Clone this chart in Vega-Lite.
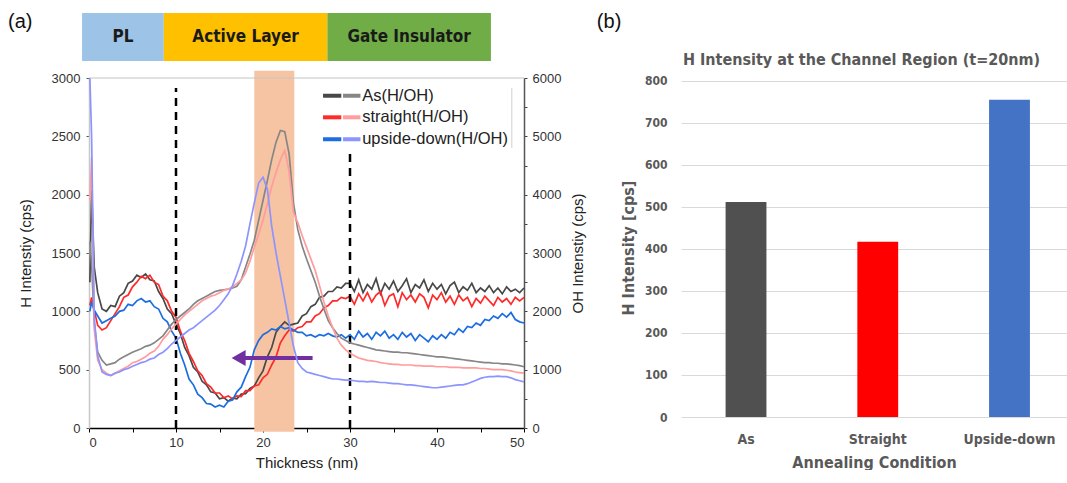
{
  "$schema": "https://vega.github.io/schema/vega-lite/v6.json",
  "padding": {"left": 8, "top": 12, "right": 0, "bottom": 0},
  "background": "white",
  "config": {"view": {"stroke": null}, "font": "Liberation Sans"},
  "spacing": 10,
  "resolve": {"scale": {"color": "independent", "fill": "independent"}},
  "datasets": {
    "curves": [
      {"x":0.1,"aH":1250,"sH":1050,"uH":1000,"aO":3200,"sO":3900,"uO":6000},
      {"x":0.3,"aH":2040,"sH":1120,"uH":1080,"aO":2800,"sO":4640,"uO":5000},
      {"x":0.6,"aH":1380,"sH":1010,"uH":1010,"aO":1800,"sO":1700,"uO":1900},
      {"x":1.0,"aH":1160,"sH":880,"uH":960,"aO":1300,"sO":1160,"uO":1240},
      {"x":1.5,"aH":1020,"sH":840,"uH":900,"aO":1160,"sO":1000,"uO":960},
      {"x":2.0,"aH":1000,"sH":860,"uH":920,"aO":1080,"sO":940,"uO":920},
      {"x":2.5,"aH":1050,"sH":920,"uH":940,"aO":1100,"sO":900,"uO":900},
      {"x":3.0,"aH":1040,"sH":980,"uH":960,"aO":1120,"sO":940,"uO":940},
      {"x":3.5,"aH":1130,"sH":1040,"uH":1000,"aO":1180,"sO":980,"uO":960},
      {"x":4.0,"aH":1160,"sH":1120,"uH":1010,"aO":1220,"sO":1020,"uO":1000},
      {"x":4.5,"aH":1240,"sH":1140,"uH":1060,"aO":1260,"sO":1060,"uO":1020},
      {"x":5.0,"aH":1260,"sH":1210,"uH":1050,"aO":1300,"sO":1120,"uO":1060},
      {"x":5.5,"aH":1310,"sH":1250,"uH":1090,"aO":1330,"sO":1140,"uO":1090},
      {"x":6.0,"aH":1290,"sH":1300,"uH":1110,"aO":1360,"sO":1180,"uO":1120},
      {"x":6.5,"aH":1320,"sH":1280,"uH":1080,"aO":1400,"sO":1220,"uO":1140},
      {"x":7.0,"aH":1270,"sH":1310,"uH":1090,"aO":1420,"sO":1280,"uO":1180},
      {"x":7.5,"aH":1260,"sH":1250,"uH":1040,"aO":1460,"sO":1320,"uO":1200},
      {"x":8.0,"aH":1170,"sH":1230,"uH":1020,"aO":1520,"sO":1400,"uO":1260},
      {"x":8.5,"aH":1110,"sH":1130,"uH":940,"aO":1580,"sO":1520,"uO":1300},
      {"x":9.0,"aH":1020,"sH":1090,"uH":910,"aO":1680,"sO":1600,"uO":1360},
      {"x":9.5,"aH":980,"sH":1000,"uH":830,"aO":1780,"sO":1700,"uO":1440},
      {"x":10.0,"aH":890,"sH":950,"uH":770,"aO":1860,"sO":1780,"uO":1500},
      {"x":10.5,"aH":810,"sH":830,"uH":640,"aO":1920,"sO":1860,"uO":1560},
      {"x":11.0,"aH":690,"sH":750,"uH":540,"aO":1980,"sO":1940,"uO":1620},
      {"x":11.5,"aH":620,"sH":640,"uH":420,"aO":2040,"sO":2000,"uO":1680},
      {"x":12.0,"aH":520,"sH":570,"uH":370,"aO":2120,"sO":2060,"uO":1720},
      {"x":12.5,"aH":480,"sH":490,"uH":290,"aO":2180,"sO":2120,"uO":1780},
      {"x":13.0,"aH":400,"sH":450,"uH":260,"aO":2220,"sO":2180,"uO":1840},
      {"x":13.5,"aH":370,"sH":380,"uH":210,"aO":2260,"sO":2220,"uO":1900},
      {"x":14.0,"aH":310,"sH":350,"uH":205,"aO":2300,"sO":2260,"uO":1960},
      {"x":14.5,"aH":300,"sH":300,"uH":180,"aO":2340,"sO":2280,"uO":2020},
      {"x":15.0,"aH":250,"sH":300,"uH":195,"aO":2360,"sO":2320,"uO":2100},
      {"x":15.5,"aH":260,"sH":260,"uH":180,"aO":2370,"sO":2360,"uO":2200},
      {"x":16.0,"aH":230,"sH":275,"uH":230,"aO":2380,"sO":2380,"uO":2300},
      {"x":16.5,"aH":255,"sH":250,"uH":240,"aO":2400,"sO":2420,"uO":2440},
      {"x":17.0,"aH":250,"sH":275,"uH":310,"aO":2430,"sO":2480,"uO":2640},
      {"x":17.5,"aH":290,"sH":270,"uH":350,"aO":2540,"sO":2540,"uO":2860},
      {"x":18.0,"aH":295,"sH":320,"uH":440,"aO":2760,"sO":2660,"uO":3120},
      {"x":18.5,"aH":340,"sH":320,"uH":520,"aO":2980,"sO":2860,"uO":3500},
      {"x":19.0,"aH":360,"sH":360,"uH":670,"aO":3220,"sO":3100,"uO":3860},
      {"x":19.5,"aH":430,"sH":370,"uH":750,"aO":3560,"sO":3320,"uO":4200},
      {"x":20.0,"aH":490,"sH":430,"uH":800,"aO":3900,"sO":3560,"uO":4300},
      {"x":20.5,"aH":610,"sH":460,"uH":820,"aO":4240,"sO":3840,"uO":4100},
      {"x":21.0,"aH":690,"sH":540,"uH":850,"aO":4600,"sO":4140,"uO":3460},
      {"x":21.5,"aH":820,"sH":610,"uH":840,"aO":4900,"sO":4380,"uO":3000},
      {"x":22.0,"aH":870,"sH":730,"uH":870,"aO":5100,"sO":4600,"uO":2600},
      {"x":22.5,"aH":910,"sH":790,"uH":850,"aO":5080,"sO":4760,"uO":2200},
      {"x":23.0,"aH":880,"sH":840,"uH":860,"aO":4700,"sO":4400,"uO":1800},
      {"x":23.5,"aH":890,"sH":830,"uH":840,"aO":3860,"sO":3700,"uO":1400},
      {"x":24.0,"aH":900,"sH":860,"uH":820,"aO":3400,"sO":3520,"uO":1120},
      {"x":24.5,"aH":960,"sH":870,"uH":820,"aO":3120,"sO":3300,"uO":1020},
      {"x":25.0,"aH":980,"sH":910,"uH":790,"aO":2900,"sO":3100,"uO":960},
      {"x":25.5,"aH":1040,"sH":910,"uH":800,"aO":2700,"sO":2900,"uO":940},
      {"x":26.0,"aH":1060,"sH":960,"uH":780,"aO":2500,"sO":2700,"uO":920},
      {"x":26.5,"aH":1120,"sH":980,"uH":800,"aO":2260,"sO":2440,"uO":900},
      {"x":27.0,"aH":1130,"sH":1030,"uH":790,"aO":2040,"sO":2160,"uO":880},
      {"x":27.5,"aH":1170,"sH":1050,"uH":810,"aO":1840,"sO":1920,"uO":860},
      {"x":28.0,"aH":1170,"sH":1090,"uH":790,"aO":1720,"sO":1720,"uO":840},
      {"x":28.5,"aH":1210,"sH":1090,"uH":780,"aO":1620,"sO":1540,"uO":840},
      {"x":29.0,"aH":1200,"sH":1120,"uH":800,"aO":1540,"sO":1420,"uO":830},
      {"x":29.5,"aH":1240,"sH":1110,"uH":770,"aO":1500,"sO":1340,"uO":820},
      {"x":30.0,"aH":1240,"sH":1130,"uH":800,"aO":1460,"sO":1280,"uO":820},
      {"x":30.5,"aH":1170,"sH":1060,"uH":760,"aO":1440,"sO":1240,"uO":810},
      {"x":31.0,"aH":1270,"sH":1150,"uH":830,"aO":1420,"sO":1200,"uO":800},
      {"x":31.5,"aH":1160,"sH":1090,"uH":780,"aO":1400,"sO":1180,"uO":800},
      {"x":32.0,"aH":1230,"sH":1160,"uH":810,"aO":1380,"sO":1160,"uO":790},
      {"x":32.5,"aH":1190,"sH":1080,"uH":760,"aO":1360,"sO":1150,"uO":800},
      {"x":33.0,"aH":1280,"sH":1140,"uH":820,"aO":1340,"sO":1140,"uO":790},
      {"x":33.5,"aH":1150,"sH":1170,"uH":790,"aO":1330,"sO":1120,"uO":780},
      {"x":34.0,"aH":1240,"sH":1050,"uH":830,"aO":1320,"sO":1110,"uO":780},
      {"x":34.5,"aH":1190,"sH":1130,"uH":770,"aO":1310,"sO":1100,"uO":770},
      {"x":35.0,"aH":1260,"sH":1150,"uH":800,"aO":1300,"sO":1090,"uO":760},
      {"x":35.5,"aH":1170,"sH":1040,"uH":760,"aO":1300,"sO":1090,"uO":760},
      {"x":36.0,"aH":1220,"sH":1160,"uH":820,"aO":1290,"sO":1080,"uO":750},
      {"x":36.5,"aH":1280,"sH":1100,"uH":780,"aO":1290,"sO":1080,"uO":740},
      {"x":37.0,"aH":1160,"sH":1140,"uH":810,"aO":1280,"sO":1080,"uO":740},
      {"x":37.5,"aH":1230,"sH":1080,"uH":750,"aO":1270,"sO":1070,"uO":730},
      {"x":38.0,"aH":1200,"sH":1150,"uH":800,"aO":1260,"sO":1070,"uO":720},
      {"x":38.5,"aH":1270,"sH":1120,"uH":770,"aO":1250,"sO":1060,"uO":710},
      {"x":39.0,"aH":1170,"sH":1030,"uH":740,"aO":1240,"sO":1060,"uO":700},
      {"x":39.5,"aH":1240,"sH":1140,"uH":790,"aO":1230,"sO":1060,"uO":690},
      {"x":40.0,"aH":1190,"sH":1100,"uH":760,"aO":1220,"sO":1050,"uO":690},
      {"x":40.5,"aH":1230,"sH":1160,"uH":800,"aO":1220,"sO":1050,"uO":700},
      {"x":41.0,"aH":1150,"sH":1080,"uH":770,"aO":1210,"sO":1050,"uO":710},
      {"x":41.5,"aH":1220,"sH":1130,"uH":820,"aO":1200,"sO":1040,"uO":720},
      {"x":42.0,"aH":1250,"sH":1060,"uH":800,"aO":1190,"sO":1040,"uO":730},
      {"x":42.5,"aH":1160,"sH":1140,"uH":850,"aO":1180,"sO":1040,"uO":740},
      {"x":43.0,"aH":1210,"sH":1090,"uH":820,"aO":1170,"sO":1030,"uO":740},
      {"x":43.5,"aH":1180,"sH":1120,"uH":870,"aO":1160,"sO":1030,"uO":760},
      {"x":44.0,"aH":1240,"sH":1040,"uH":860,"aO":1150,"sO":1030,"uO":790},
      {"x":44.5,"aH":1160,"sH":1110,"uH":900,"aO":1140,"sO":1030,"uO":820},
      {"x":45.0,"aH":1200,"sH":1070,"uH":880,"aO":1130,"sO":1020,"uO":850},
      {"x":45.5,"aH":1170,"sH":1130,"uH":930,"aO":1120,"sO":1020,"uO":870},
      {"x":46.0,"aH":1220,"sH":1090,"uH":920,"aO":1120,"sO":1010,"uO":880},
      {"x":46.5,"aH":1160,"sH":1050,"uH":960,"aO":1110,"sO":1000,"uO":880},
      {"x":47.0,"aH":1200,"sH":1120,"uH":940,"aO":1110,"sO":1000,"uO":890},
      {"x":47.5,"aH":1150,"sH":1080,"uH":980,"aO":1100,"sO":1000,"uO":880},
      {"x":48.0,"aH":1210,"sH":1110,"uH":950,"aO":1100,"sO":990,"uO":880},
      {"x":48.5,"aH":1170,"sH":1060,"uH":990,"aO":1090,"sO":980,"uO":860},
      {"x":49.0,"aH":1190,"sH":1120,"uH":930,"aO":1080,"sO":960,"uO":830},
      {"x":49.5,"aH":1160,"sH":1090,"uH":910,"aO":1070,"sO":950,"uO":810},
      {"x":50.0,"aH":1200,"sH":1120,"uH":900,"aO":1050,"sO":940,"uO":790}
    ]
  },
  "hconcat": [
    {
      "width": 435,
      "height": 350,
      "resolve": {"scale": {"y": "independent"}},
      "layer": [
        {
          "layer": [
            {
              "data": {"values": [{"x": 19, "x2": 23.6, "y": -32, "y2": 3063}]},
              "mark": {"type": "rect", "fill": "#f6c4a2"},
              "encoding": {
                "x": {"field": "x", "type": "quantitative"},
                "x2": {"field": "x2"},
                "y": {"field": "y", "type": "quantitative"},
                "y2": {"field": "y2"}
              }
            },
            {
              "data": {"values": [
                {"label": "PL", "x": -0.8, "x2": 8.6, "xm": 3.9},
                {"label": "Active Layer", "x": 8.6, "x2": 27.4, "xm": 18.0},
                {"label": "Gate Insulator", "x": 27.4, "x2": 46.2, "xm": 36.8}
              ]},
              "layer": [
                {
                  "mark": {"type": "rect"},
                  "encoding": {
                    "x": {"field": "x", "type": "quantitative"},
                    "x2": {"field": "x2"},
                    "y": {"datum": 3146, "type": "quantitative"},
                    "y2": {"datum": 3557},
                    "fill": {"field": "label", "type": "nominal", "scale": {"domain": ["PL", "Active Layer", "Gate Insulator"], "range": ["#9dc3e6", "#ffc000", "#70ad47"]}, "legend": null}
                  }
                },
                {
                  "mark": {"type": "text", "font": "DejaVu Sans Condensed", "fontWeight": "bold", "fontSize": 17, "color": "#1a1a1a", "baseline": "middle", "align": "center"},
                  "encoding": {
                    "x": {"field": "xm", "type": "quantitative"},
                    "y": {"datum": 3351, "type": "quantitative"},
                    "text": {"field": "label"}
                  }
                }
              ]
            },
            {
              "data": {"values": [{"a": 0, "b": 50, "c": 3000}]},
              "mark": {"type": "rule", "color": "#c4c4c4", "strokeWidth": 1.2},
              "encoding": {
                "x": {"field": "a", "type": "quantitative"},
                "x2": {"field": "b"},
                "y": {"field": "c", "type": "quantitative"}
              }
            },
            {
              "data": {"name": "curves"},
              "transform": [{"fold": ["aH", "sH", "uH"], "as": ["series", "value"]}],
              "mark": {"type": "line", "strokeWidth": 1.7},
              "encoding": {
                "x": {
                  "field": "x", "type": "quantitative",
                  "scale": {"domain": [0, 50], "nice": false},
                  "axis": {
                    "title": "Thickness (nm)",
                    "values": [0, 5, 10, 15, 20, 25, 30, 35, 40, 45, 50],
                    "labelExpr": "datum.value % 10 === 0 ? datum.label : ''",
                    "grid": false, "domainColor": "#000", "domainWidth": 1.5,
                    "tickColor": "#000", "tickSize": 4, "labelPadding": 4,
                    "labelFontSize": 13, "labelColor": "#333",
                    "titleFontSize": 15, "titleFontWeight": "normal", "titleColor": "#222", "titlePadding": 6
                  }
                },
                "y": {
                  "field": "value", "type": "quantitative",
                  "scale": {"domain": [0, 3000], "nice": false},
                  "axis": {
                    "title": "H Intenstiy (cps)",
                    "values": [0, 250, 500, 750, 1000, 1250, 1500, 1750, 2000, 2250, 2500, 2750, 3000],
                    "format": "d",
                    "labelExpr": "datum.value % 500 === 0 ? datum.label : ''",
                    "grid": false, "domainColor": "#c8c8c8", "domainWidth": 1.5,
                    "tickColor": "#555", "tickSize": 3, "labelPadding": 6,
                    "labelFontSize": 13, "labelColor": "#333",
                    "titleFontSize": 15, "titleFontWeight": "normal", "titleColor": "#222", "titlePadding": 18
                  }
                },
                "color": {
                  "field": "series", "type": "nominal",
                  "scale": {"domain": ["aH", "sH", "uH", "aO", "sO", "uO"], "range": ["#484848", "#ff2a2a", "#1c6ee0", "#868686", "#ff9c9c", "#8c94ff"]},
                  "legend": null
                }
              }
            },
            {
              "data": {"values": [{"x": 10, "y": 0, "y2": 2914}, {"x": 30, "y": 0, "y2": 2400}]},
              "mark": {"type": "rule", "color": "#000", "strokeWidth": 2.5, "strokeDash": [8, 6]},
              "encoding": {
                "x": {"field": "x", "type": "quantitative"},
                "y": {"field": "y", "type": "quantitative"},
                "y2": {"field": "y2"}
              }
            },
            {
              "data": {"values": [{"x": 25.7, "x2": 17.8, "y": 600}]},
              "mark": {"type": "rule", "color": "#7030a0", "strokeWidth": 4},
              "encoding": {
                "x": {"field": "x", "type": "quantitative"},
                "x2": {"field": "x2"},
                "y": {"field": "y", "type": "quantitative"}
              }
            },
            {
              "data": {"values": [{"x": 17.2, "y": 600}]},
              "mark": {"type": "point", "shape": "triangle-left", "filled": true, "size": 260, "color": "#7030a0", "opacity": 1},
              "encoding": {
                "x": {"field": "x", "type": "quantitative"},
                "y": {"field": "y", "type": "quantitative"}
              }
            },
            {
              "data": {"values": [
                {"series": "aH", "x": 26.9, "x2": 29.0, "y": 2848},
                {"series": "aO", "x": 29.2, "x2": 31.2, "y": 2848},
                {"series": "sH", "x": 26.9, "x2": 29.0, "y": 2663},
                {"series": "sO", "x": 29.2, "x2": 31.2, "y": 2663},
                {"series": "uH", "x": 26.9, "x2": 29.0, "y": 2475},
                {"series": "uO", "x": 29.2, "x2": 31.2, "y": 2475}
              ]},
              "mark": {"type": "rule", "strokeWidth": 4},
              "encoding": {
                "x": {"field": "x", "type": "quantitative"},
                "x2": {"field": "x2"},
                "y": {"field": "y", "type": "quantitative"},
                "color": {"field": "series", "type": "nominal", "legend": null}
              }
            },
            {
              "data": {"values": [
                {"t": "As(H/OH)", "x": 31.4, "y": 2848},
                {"t": "straight(H/OH)", "x": 31.4, "y": 2663},
                {"t": "upside-down(H/OH)", "x": 31.4, "y": 2475}
              ]},
              "mark": {"type": "text", "align": "left", "baseline": "middle", "fontSize": 16.5, "color": "#222"},
              "encoding": {
                "x": {"field": "x", "type": "quantitative"},
                "y": {"field": "y", "type": "quantitative"},
                "text": {"field": "t"}
              }
            },
            {
              "data": {"values": [{"x": 48.6, "y": 2400, "y2": 2914}]},
              "mark": {"type": "rule", "color": "#cfcfcf", "strokeWidth": 1},
              "encoding": {
                "x": {"field": "x", "type": "quantitative"},
                "y": {"field": "y", "type": "quantitative"},
                "y2": {"field": "y2"}
              }
            },
            {
              "data": {"values": [{"t": "(a)", "x": -9.3, "y": 3480}]},
              "mark": {"type": "text", "align": "left", "baseline": "middle", "fontSize": 20, "color": "#111"},
              "encoding": {
                "x": {"field": "x", "type": "quantitative"},
                "y": {"field": "y", "type": "quantitative"},
                "text": {"field": "t"}
              }
            }
          ]
        },
        {
          "data": {"name": "curves"},
          "transform": [{"fold": ["aO", "sO", "uO"], "as": ["series", "value"]}],
          "mark": {"type": "line", "strokeWidth": 1.7},
          "encoding": {
            "x": {"field": "x", "type": "quantitative"},
            "y": {
              "field": "value", "type": "quantitative",
              "scale": {"domain": [0, 6000], "nice": false},
              "axis": {
                "orient": "right",
                "title": "OH Intenstiy (cps)",
                "titleAngle": 270,
                "titleBaseline": "top",
                "values": [0, 500, 1000, 1500, 2000, 2500, 3000, 3500, 4000, 4500, 5000, 5500, 6000],
                "format": "d",
                "labelExpr": "datum.value % 1000 === 0 ? datum.label : ''",
                "grid": false, "domainColor": "#555", "domainWidth": 1.5,
                "tickColor": "#444", "tickSize": 3, "labelPadding": 5,
                "labelFontSize": 13, "labelColor": "#333",
                "titleFontSize": 15, "titleFontWeight": "normal", "titleColor": "#222", "titlePadding": 10
              }
            },
            "color": {"field": "series", "type": "nominal", "legend": null}
          }
        }
      ]
    },
    {
      "width": 386,
      "height": 339,
      "resolve": {"scale": {"x": "independent"}},
      "layer": [
        {
          "data": {"values": [
            {"cond": "As", "h": 512},
            {"cond": "Straight", "h": 417},
            {"cond": "Upside-down", "h": 755}
          ]},
          "mark": {"type": "bar"},
          "encoding": {
            "x": {
              "field": "cond", "type": "nominal", "sort": null,
              "scale": {"paddingInner": 0.69, "paddingOuter": 0.31, "align": 0.546},
              "axis": {
                "title": "Annealing Condition", "labelAngle": 0,
                "domain": false, "ticks": false, "tickSize": 0, "grid": false,
                "labelFont": "DejaVu Sans Condensed", "labelFontWeight": "bold", "labelFontSize": 14, "labelColor": "#595959", "labelPadding": 15,
                "titleFont": "DejaVu Sans Condensed", "titleFontWeight": "bold", "titleFontSize": 16, "titleColor": "#595959", "titlePadding": 8
              }
            },
            "y": {
              "field": "h", "type": "quantitative",
              "scale": {"domain": [0, 807], "nice": false},
              "axis": {
                "title": "H Intensity [cps]",
                "values": [0, 100, 200, 300, 400, 500, 600, 700, 800],
                "domain": false, "ticks": false, "tickSize": 0,
                "grid": true, "gridColor": "#d9d9d9", "gridWidth": 1,
                "labelFont": "DejaVu Sans Condensed", "labelFontWeight": "bold", "labelFontSize": 12, "labelColor": "#595959", "labelPadding": 14,
                "titleFont": "DejaVu Sans Condensed", "titleFontWeight": "bold", "titleFontSize": 16, "titleColor": "#595959", "titlePadding": 8
              }
            },
            "color": {
              "field": "cond", "type": "nominal",
              "scale": {"domain": ["As", "Straight", "Upside-down"], "range": ["#505050", "#ff0000", "#4472c4"]},
              "legend": null
            }
          }
        },
        {
          "data": {"values": [{"t": "(b)", "px": -0.218, "py": 940}]},
          "mark": {"type": "text", "align": "left", "baseline": "middle", "fontSize": 20, "color": "#111", "font": "Liberation Sans"},
          "encoding": {
            "x": {"field": "px", "type": "quantitative", "scale": {"domain": [0, 1]}, "axis": null},
            "y": {"field": "py", "type": "quantitative"},
            "text": {"field": "t"}
          }
        },
        {
          "data": {"values": [{"t": "H Intensity at the Channel Region (t=20nm)", "px": 0.005, "py": 850}]},
          "mark": {"type": "text", "align": "left", "baseline": "middle", "fontSize": 16, "fontWeight": "bold", "color": "#595959", "font": "DejaVu Sans Condensed"},
          "encoding": {
            "x": {"field": "px", "type": "quantitative", "scale": {"domain": [0, 1]}, "axis": null},
            "y": {"field": "py", "type": "quantitative"},
            "text": {"field": "t"}
          }
        }
      ]
    }
  ]
}
